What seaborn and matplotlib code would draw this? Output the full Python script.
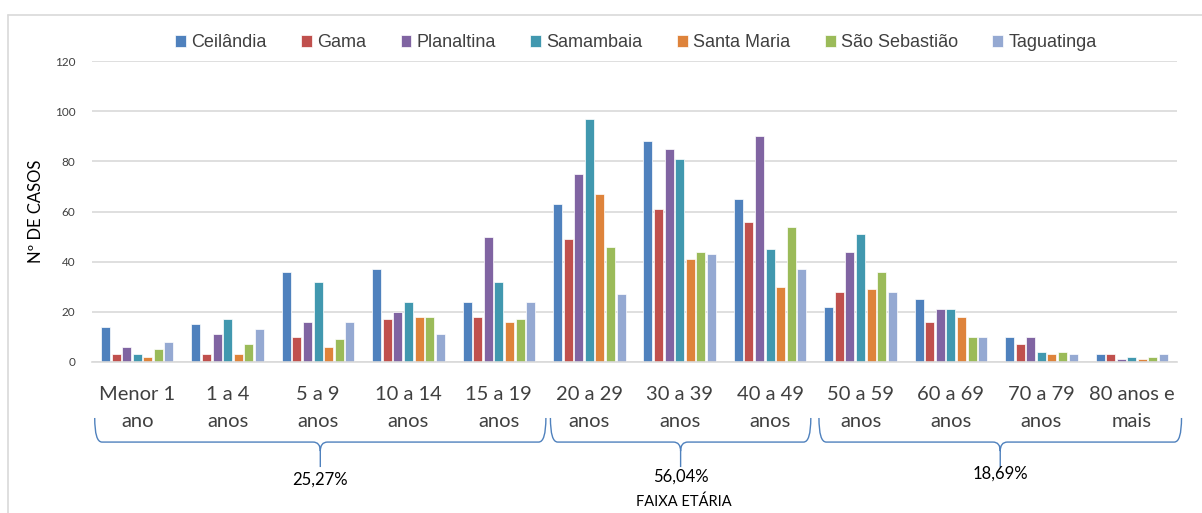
"""
Casos por faixa etária e região administrativa — barras agrupadas.
"""

import numpy as np
import pandas as pd
import matplotlib
matplotlib.use("Agg")
import matplotlib.pyplot as plt
from matplotlib.path import Path
from matplotlib.patches import PathPatch
from matplotlib.lines import Line2D
import seaborn as sns

faixas = [
    "Menor 1\nano", "1 a 4\nanos", "5 a 9\nanos", "10 a 14\nanos",
    "15 a 19\nanos", "20 a 29\nanos", "30 a 39\nanos", "40 a 49\nanos",
    "50 a 59\nanos", "60 a 69\nanos", "70 a 79\nanos", "80 anos e\nmais",
]
regioes = ["Ceilândia", "Gama", "Planaltina", "Samambaia",
           "Santa Maria", "São Sebastião", "Taguatinga"]

ceilandia = [14, 15, 36, 37, 24, 63, 88, 65, 22, 25, 10, 3]
gama = [3, 3, 10, 17, 18, 49, 61, 56, 28, 16, 7, 3]
planaltina = [6, 11, 16, 20, 50, 75, 85, 90, 44, 21, 10, 1]
samambaia = [3, 17, 32, 24, 32, 97, 81, 45, 51, 21, 4, 2]
santa_maria = [2, 3, 6, 18, 16, 67, 41, 30, 29, 18, 3, 1]
sao_sebastiao = [5, 7, 9, 18, 17, 46, 44, 54, 36, 10, 4, 2]
taguatinga = [8, 13, 16, 11, 24, 27, 43, 37, 28, 10, 3, 3]

cores = ["#4F81BD", "#C0504D", "#8064A2", "#4198AF",
         "#DE833B", "#9BBB59", "#95A9D2"]

# grupos de faixas (início, fim, texto)
grupos = [(-0.47, 4.52, "25,27%"), (4.57, 7.45, "56,04%"), (7.54, 11.55, "18,69%")]

series = [ceilandia, gama, planaltina, samambaia, santa_maria, sao_sebastiao, taguatinga]
rows = []
for reg, vals in zip(regioes, series):
    for f, v in zip(faixas, vals):
        rows.append({"faixa": f, "regiao": reg, "casos": v})
df = pd.DataFrame(rows)

sns.set_theme(style="white")
plt.rcParams["font.family"] = ["Lato", "DejaVu Sans"]

fig = plt.figure(figsize=(12.02, 5.13), dpi=100)
fig.patch.set_facecolor("white")
ax = fig.add_axes([92 / 1202, 1 - 362 / 513, 1085 / 1202, 301 / 513])

sns.barplot(
    data=df, x="faixa", y="casos", hue="regiao",
    order=faixas, hue_order=regioes, palette=cores, saturation=1,
    width=0.82, gap=0.15, edgecolor="white", linewidth=0.5,
    errorbar=None, ax=ax,
)

ax.set_ylim(0, 120)
ax.set_xlim(-0.5, len(faixas) - 0.5)
ax.set_yticks(np.arange(0, 121, 20))
ax.yaxis.grid(True, color="#D9D9D9", linewidth=1.2)
ax.set_axisbelow(True)
for s in ["top", "right", "left"]:
    ax.spines[s].set_visible(False)
ax.spines["bottom"].set_color("#D9D9D9")
ax.spines["bottom"].set_linewidth(1.2)
ax.tick_params(axis="y", length=0, pad=12, labelsize=8.5, labelcolor="#404040")
ax.tick_params(axis="x", length=0, pad=17, labelsize=14.5, labelcolor="#404040")
for lbl in ax.get_xticklabels():
    lbl.set_linespacing(1.75)
ax.set_xlabel("")
ax.set_ylabel("Nº DE CASOS", fontsize=12, color="#000000", labelpad=8)

# legenda
handles, labels = ax.get_legend_handles_labels()
ax.legend(
    handles, labels, ncol=7, loc="center", frameon=False,
    bbox_to_anchor=(636 / 1202, 1 - 43 / 513), bbox_transform=fig.transFigure,
    handlelength=0.6, handleheight=0.6, handletextpad=0.3, columnspacing=1.9,
    prop={"family": ["Liberation Sans"], "size": 13},
    labelcolor="#404040",
)

# chaves sob as faixas
trans = ax.get_xaxis_transform()
yt, ym, ytip = -0.186, -0.266, -0.349
r = 0.08
for x0, x1, txt in grupos:
    xm = (x0 + x1) / 2
    verts = [
        (x0, yt), (x0, ym), (x0 + r, ym),
        (xm - r, ym), (xm, ym), (xm, ym - 0.03),
        (xm, ytip),
        (xm, ym - 0.03), (xm, ym), (xm + r, ym),
        (x1 - r, ym), (x1, ym), (x1, yt),
    ]
    codes = [
        Path.MOVETO, Path.CURVE3, Path.CURVE3,
        Path.LINETO, Path.CURVE3, Path.CURVE3,
        Path.LINETO,
        Path.MOVETO, Path.CURVE3, Path.CURVE3,
        Path.LINETO, Path.CURVE3, Path.CURVE3,
    ]
    patch = PathPatch(Path(verts, codes), transform=trans, fill=False,
                      edgecolor="#4F81BD", linewidth=1.0, clip_on=False)
    ax.add_patch(patch)

ypct = {"25,27%": -0.392, "56,04%": -0.382, "18,69%": -0.372}
for x0, x1, txt in grupos:
    ax.text((x0 + x1) / 2, ypct[txt], txt, transform=trans, ha="center",
            va="center", fontsize=12, color="#000000")

ax.text(6.05, -0.465, "FAIXA ETÁRIA", transform=trans, ha="center",
        va="center", fontsize=10.5, color="#000000")

# moldura do gráfico
fig.add_artist(Line2D([8 / 1202, 8 / 1202], [0, 1 - 15 / 513],
                      transform=fig.transFigure, color="#D9D9D9", linewidth=1.2))
fig.add_artist(Line2D([8 / 1202, 1], [1 - 15 / 513, 1 - 15 / 513],
                      transform=fig.transFigure, color="#D9D9D9", linewidth=1.2))

fig.savefig("out.png", dpi=100, facecolor=fig.get_facecolor())
plt.close(fig)
